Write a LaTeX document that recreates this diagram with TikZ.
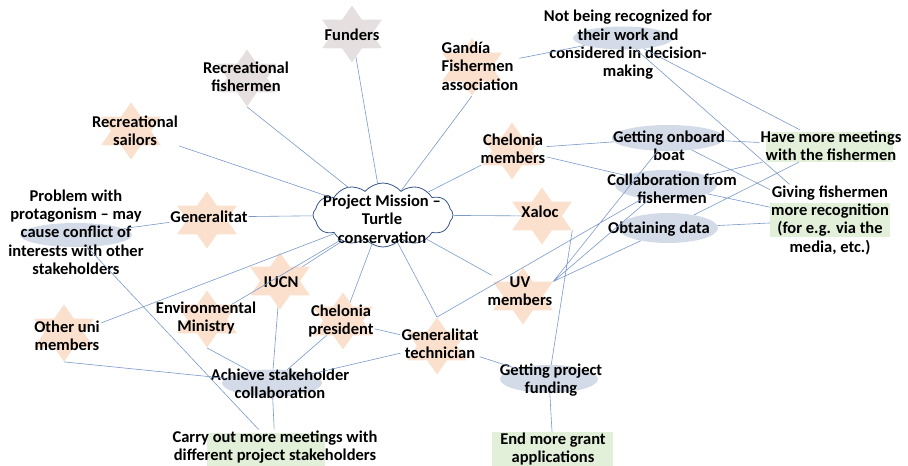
\documentclass[tikz,border=0pt]{standalone}
\usepackage{fontspec}
\setmainfont{Carlito}
\usetikzlibrary{shapes.geometric, shapes.symbols, positioning, backgrounds}
\definecolor{myLink}{RGB}{122, 152, 202}
\definecolor{myCloud}{RGB}{55, 85, 135}
\definecolor{myPeach}{RGB}{250, 224, 205}
\definecolor{myGrey}{RGB}{229, 224, 223}
\definecolor{myOval}{RGB}{212, 219, 232}
\definecolor{myGreen}{RGB}{226, 239, 217}
\tikzstyle{txt}= [align=center, inner sep=1pt, font=\bfseries\fontsize{16.5bp}{18.3bp}\selectfont]
\tikzstyle{starbox}= [star, star points=6, star point ratio=1.73, minimum size=57bp, inner sep=0pt, fill=myPeach, xscale=1.21, transform shape]
\tikzstyle{greystar}= [starbox, fill=myGrey]
\tikzstyle{oval}= [ellipse, fill=myOval, inner sep=0pt]
\tikzstyle{greenbox}= [fill=myGreen, inner sep=0pt]
\tikzstyle{cloudbox}= [cloud, cloud puffs=12, cloud puff arc=100, draw=myCloud, fill=white, line width=0.8pt, inner sep=0pt]
\tikzstyle{link}= [draw=myLink, line width=0.6pt]

\begin{document}
\begin{tikzpicture}[x=1bp, y=-1bp]
    \useasboundingbox (0,0) rectangle (908,466);

    % the mission in the middle
    \node [cloudbox, minimum width=140bp, minimum height=64bp] (mission) at (383,215) {};
    \node [txt] (missiontxt) at (382,219) {Project Mission --\\Turtle\\conservation};

    % stakeholders
    \node [txt] (fund) at (352,35) {Funders};
    \node [txt] (recf) at (246,77) {Recreational\\fishermen};
    \node [txt] (recs) at (135,131) {Recreational\\sailors};
    \node [txt, align=left] (gand) at (480,66) {Gandía\\Fishermen\\association};
    \node [txt] (chelm) at (513,149) {Chelonia\\members};
    \node [txt] (gen) at (209,217) {Generalitat};
    \node [txt] (xaloc) at (540,212) {Xaloc};
    \node [txt] (uv) at (520,291) {UV\\members};
    \node [txt] (iucn) at (281,282) {IUCN};
    \node [txt] (envm) at (206,318) {Environmental\\Ministry};
    \node [txt] (chelp) at (341,321) {Chelonia\\president};
    \node [txt] (gtech) at (440,344) {Generalitat\\technician};
    \node [txt] (other) at (67,336) {Other uni\\members};

    % issues and goals
    \node [txt] (notrec) at (628,45) {Not being recognized for\\their work and\\considered in decision-\\making};
    \node [txt] (prob) at (76,232) {Problem with\\protagonism -- may\\cause conflict of\\interests with other\\stakeholders};
    \node [txt] (gob) at (669,146) {Getting onboard\\boat};
    \node [txt] (collab) at (672,189) {Collaboration from\\fishermen};
    \node [txt] (obt) at (659,229) {Obtaining data};
    \node [txt] (achieve) at (280,384) {Achieve stakeholder\\collaboration};
    \node [txt] (fundg) at (551,380) {Getting project\\funding};

    % actions
    \node [txt] (meet) at (831,146) {Have more meetings\\with the fishermen};
    \node [txt] (recog) at (830,220) {Giving fishermen\\more recognition\\(for e.g. via the\\media, etc.)};
    \node [txt] (carry) at (275,447) {Carry out more meetings with\\different project stakeholders};
    \node [txt] (grant) at (553,449) {End more grant\\applications};

    % shapes behind the texts
    \begin{pgfonlayer}{background}
        \node [greystar] (fund-s) at (352,34) {};
        \node [greystar] (recf-s) at (247,78) {};
        \node [starbox] (recs-s) at (131,131) {};
        \node [starbox] (gand-s) at (472,67) {};
        \node [starbox] (chelm-s) at (512,151) {};
        \node [starbox] (gen-s) at (207,220) {};
        \node [starbox] (xaloc-s) at (542,216) {};
        \node [starbox] (uv-s) at (523,296) {};
        \node [starbox] (iucn-s) at (280,281) {};
        \node [starbox] (envm-s) at (207,319) {};
        \node [starbox] (chelp-s) at (343,321) {};
        \node [starbox] (gtech-s) at (437,346) {};
        \node [starbox] (other-s) at (64,333) {};

        \node [oval, minimum width=100bp, minimum height=23bp] (notrec-e) at (623,38) {};
        \node [oval, minimum width=112bp, minimum height=24bp] (prob-e) at (76,235) {};
        \node [oval, minimum width=113bp, minimum height=26bp] (gob-e) at (668,138) {};
        \node [oval, minimum width=102bp, minimum height=30bp] (collab-e) at (666,185) {};
        \node [oval, minimum width=100bp, minimum height=30bp] (obt-e) at (668,228) {};
        \node [oval, minimum width=100bp, minimum height=27bp] (achieve-e) at (272,383) {};
        \node [oval, minimum width=98bp, minimum height=28bp] (fundg-e) at (549,379) {};

        \node [greenbox, minimum width=127bp, minimum height=30bp] (meet-b) at (829.5,147) {};
        \node [greenbox, minimum width=120bp, minimum height=34bp] (recog-b) at (830,220) {};
        \node [greenbox, minimum width=118bp, minimum height=33bp] (carry-b) at (266,449.5) {};
        \node [greenbox, minimum width=121bp, minimum height=34bp] (grant-b) at (552.5,449) {};
    \end{pgfonlayer}

    % stakeholders to the mission
    \draw [link] (fund-s) -- (mission) (recf-s.outer point 4) -- (mission) (recs) -- (mission)
        (gand-s.outer point 4) -- (mission) (chelm) -- (mission) (gen) -- (mission)
        (xaloc-s) -- (mission) (uv) -- (mission) (other) -- (mission)
        (envm-s) -- (mission) (iucn-s) -- (mission) (chelp-s) -- (mission)
        (gtech-s.outer point 1) -- (mission);

    % stakeholders to the issues
    \draw [link] (gand) -- (notrec-e) (chelm) -- (gob-e) (chelm) -- (collab-e)
        (gen) -- (prob-e) (gtech-s.outer point 1) -- (collab-e) (chelp) -- (gtech)
        (gtech) -- (fundg-e) (uv-s.outer point 6) -- (gob-e)
        (uv-s.outer point 6) -- (collab-e) (uv-s.outer point 6) -- (obt-e)
        (xaloc-s.outer point 5) -- (fundg-e);

    % stakeholder collaboration
    \draw [link] (gtech) -- (achieve-e) (envm-s.outer point 4) -- (achieve-e)
        (iucn-s) -- (achieve-e) (chelp-s) -- (achieve-e) (other-s.outer point 4) -- (achieve-e);

    % issues to actions
    \draw [link] (achieve-e) -- (carry) (prob-e) -- (carry) (fundg-e) -- (grant)
        (gob-e) -- (meet) (gob-e) -- (recog) (collab-e) -- (meet)
        (collab-e) -- (recog) (obt-e) -- (recog) (obt-e) -- (meet)
        (notrec-e) -- (meet) (notrec-e) -- (recog);

\end{tikzpicture}
\end{document}
